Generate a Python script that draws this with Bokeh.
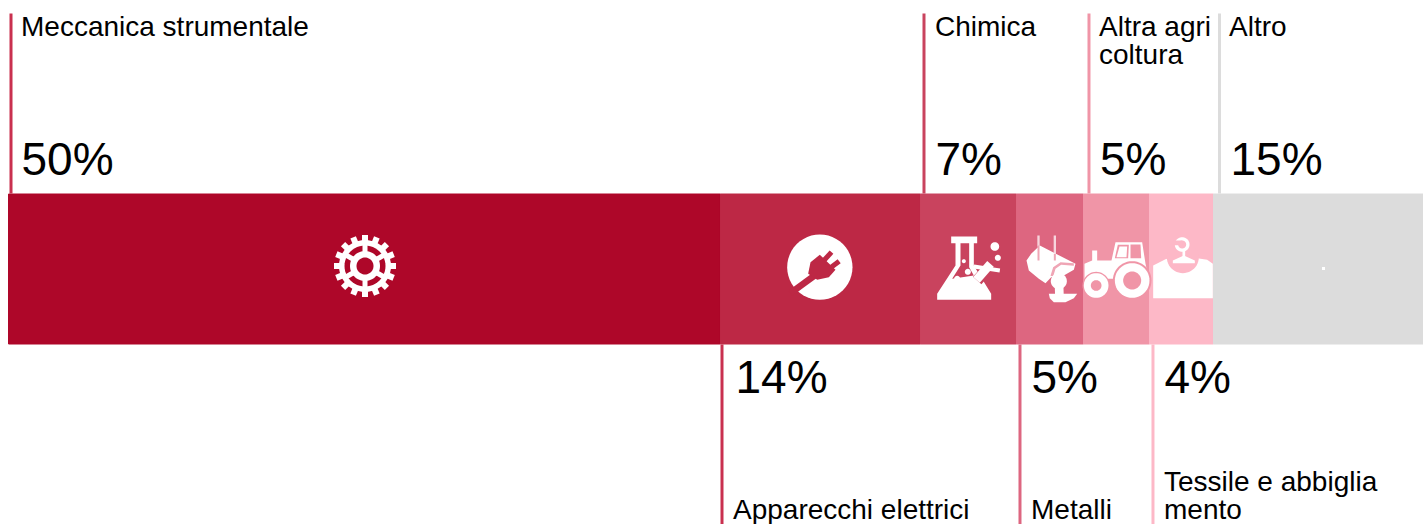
import math
from bokeh.plotting import figure
from bokeh.models import Range1d
from bokeh.core.properties import value
from bokeh.embed import file_html
from bokeh.resources import INLINE

# ---- data ----
sectors = ["Meccanica strumentale", "Apparecchi elettrici", "Chimica", "Metalli",
           "Altra agricoltura", "Tessile e abbigliamento", "Altro"]
shown_pct = [50, 14, 7, 5, 5, 4, 15]
bar_share = [50.318, 14.134, 6.784, 4.735, 4.664, 4.523, 14.842]
bar_colors = ["#AE0729", "#BD2845", "#C9435E", "#DD6680", "#F095A7", "#FDB8C7", "#DCDCDC"]
stem_colors = ["#C9304F", "#C9304F", "#C9435E", "#DD6680", "#F095A7", "#FDB8C7", "#DCDCDC"]
label_lines = [["Meccanica strumentale"], ["Apparecchi elettrici"], ["Chimica"], ["Metalli"],
               ["Altra agri", "coltura"], ["Tessile e abbiglia", "mento"], ["Altro"]]
above = [True, False, True, False, True, False, True]

W, H = 1423, 524
UNIT = 1415.0 / 100.0   # pixels per percentage point


def X(px):
    return (px - 8) / UNIT


p = figure(width=W, height=H, output_backend="svg", toolbar_location=None,
           x_range=Range1d(X(0), X(W)), y_range=Range1d(H, 0),
           min_border=0, outline_line_color=None, background_fill_color="white",
           border_fill_color="white")
p.axis.visible = False
p.grid.visible = False

FONT = value("Liberation Sans")
BAR_TOP, BAR_BOT = 193.5, 343.5
LABEL_SIZE, PCT_SIZE = 28, 46
SHIFT = 0.38   # the svg text sits this many em under its anchor

# bars through the x scale
lefts, rights, c = [], [], 0.0
for s in bar_share:
    lefts.append(c); c += s; rights.append(c)
p.quad(left=lefts, right=rights, top=BAR_TOP, bottom=BAR_BOT, fill_color=bar_colors,
       line_color=bar_colors, line_width=1)

# stems and labels, placed from each bar's left edge
stem_off = [2.5, 1.5, 3.5, 3.5, 5.5, 3.5, 6]
text_off = [12.5, 12.5, 14.5, 14.5, 15.5, 14.5, 15.5]
pct_off = [13, 15, 15, 15, 16.5, 15, 17]
for i, (l, up) in enumerate(zip(lefts, above)):
    sx = l + stem_off[i] / UNIT
    y0, y1 = (13, 193) if up else (344, 524)
    p.segment([sx], [y0], [sx], [y1], line_color=stem_colors[i], line_width=3)
    tx = l + text_off[i] / UNIT
    ptx = l + pct_off[i] / UNIT
    p.text([ptx], [(176 if up else 394) - SHIFT * PCT_SIZE], text=[f"{shown_pct[i]}%"], text_font=FONT,
           text_font_size=f"{PCT_SIZE}px", text_color="black", text_baseline="alphabetic")
    lines = label_lines[i]
    n = len(lines)
    for j, t in enumerate(lines):
        yy = 37 + 28 * j if up else 520 - 28 * (n - 1 - j)
        p.text([tx], [yy - SHIFT * LABEL_SIZE], text=[t], text_font=FONT, text_font_size=f"{LABEL_SIZE}px",
               text_color="black", text_baseline="alphabetic")


# ---- icons, white pictograms in page pixels ----
def poly(pts, color="white", ox=0, oy=0, k=1.0):
    p.patch([X(ox + a * k) for a, b in pts], [oy + b * k for a, b in pts],
            fill_color=color, line_color=None)


def disc(cx, cy, r, color="white", ox=0, oy=0, k=1.0):
    n = 48
    poly([(cx + r * math.cos(2 * math.pi * t / n), cy + r * math.sin(2 * math.pi * t / n)) for t in range(n)],
         color, ox, oy, k)


def bar(x0, y0, x1, y1, w, color="white", ox=0, oy=0, k=1.0):
    dx, dy = x1 - x0, y1 - y0
    L = math.hypot(dx, dy)
    nx, ny = -dy / L * w / 2, dx / L * w / 2
    poly([(x0 + nx, y0 + ny), (x1 + nx, y1 + ny), (x1 - nx, y1 - ny), (x0 - nx, y0 - ny)], color, ox, oy, k)


# gear
gx, gy = 364.5, 265.5
for t in range(16):
    a = 2 * math.pi * t / 16 + math.pi / 2
    bar(gx, gy, gx + 31 * math.cos(a), gy + 31 * math.sin(a), 6)
disc(gx, gy, 26)
disc(gx, gy, 20.5, bar_colors[0])
for t in range(6):
    a = 2 * math.pi * t / 6 + math.pi / 2
    bar(gx, gy, gx + 22 * math.cos(a), gy + 22 * math.sin(a), 5)
disc(gx, gy, 15)
disc(gx, gy, 8.5, bar_colors[0])

k3 = 1 / 3
# plug
ox, oy = 760, 210
R = bar_colors[1]
disc(178, 170, 98, "white", ox, oy, k3)
bar(90, 248, 165, 193, 20, R, ox, oy, k3)
poly([(143, 190), (150, 155), (178, 133), (225, 178), (205, 200), (170, 208)], R, ox, oy, k3)
bar(190, 150, 213, 125, 15, R, ox, oy, k3)
bar(210, 172, 236, 152, 15, R, ox, oy, k3)

# flask
C = bar_colors[2]
poly([(572, 78), (650, 78), (650, 98), (640, 98), (640, 165), (692, 250), (692, 268),
      (530, 268), (530, 250), (585, 165), (585, 98), (572, 98)], "white", ox, oy, k3)
poly([(600, 98), (626, 98), (626, 170), (640, 195), (575, 205), (600, 165)], C, ox, oy, k3)
disc(610, 152, 6, "white", ox, oy, k3)
disc(622, 184, 9, "white", ox, oy, k3)
disc(590, 205, 9, "white", ox, oy, k3)
bar(650, 210, 695, 160, 34, C, ox, oy, k3)
bar(648, 208, 690, 160, 26, "white", ox, oy, k3)
bar(640, 168, 718, 180, 12, "white", ox, oy, k3)
disc(703, 108, 13, "white", ox, oy, k3)
disc(712, 142, 9, "white", ox, oy, k3)

# crucible
ox, oy = 1010, 210
M = "#EFA5B5"
bar(84, 75, 84, 108, 7, "#F7D5DD", ox, oy, k3)
bar(133, 75, 133, 132, 7, "#F7D5DD", ox, oy, k3)
poly([(48, 150), (62, 130), (88, 105), (195, 160), (190, 178), (160, 195), (122, 200), (105, 218), (85, 205), (55, 180)],
     "white", ox, oy, k3)
bar(84, 105, 84, 150, 6, M, ox, oy, k3)
bar(133, 130, 133, 150, 6, M, ox, oy, k3)
poly([(120, 196), (128, 170), (150, 155), (190, 158), (190, 166), (152, 163), (135, 175), (128, 198)],
     M, ox, oy, k3)
bar(145, 205, 147, 262, 26, "white", ox, oy, k3)
disc(145, 212, 24, "white", ox, oy, k3)
poly([(115, 250), (200, 250), (190, 263), (165, 275), (130, 275), (118, 263)], "white", ox, oy, k3)

# tractor
T = bar_colors[4]
poly([(222, 160), (245, 150), (245, 120), (260, 120), (260, 150), (303, 150), (315, 95), (395, 95), (405, 160),
      (415, 205), (300, 205), (222, 205)], "white", ox, oy, k3)
poly([(322, 103), (355, 103), (353, 143), (313, 143)], T, ox, oy, k3)
poly([(327, 108), (350, 108), (348, 140), (318, 140)], "white", ox, oy, k3)
poly([(360, 102), (390, 102), (392, 143), (360, 143)], T, ox, oy, k3)
disc(365, 210, 58, T, ox, oy, k3)
disc(257, 225, 41, T, ox, oy, k3)
disc(365, 210, 52, "white", ox, oy, k3)
disc(365, 210, 27, T, ox, oy, k3)
disc(257, 225, 37, "white", ox, oy, k3)
disc(257, 225, 16, T, ox, oy, k3)

# shirt on a hanger
S = bar_colors[5]
poly([(428, 165), (465, 146), (480, 142), (550, 142), (590, 148), (607, 160), (607, 263), (428, 263)],
     "white", ox, oy, k3)
disc(517, 140, 48, S, ox, oy, k3)
disc(515, 102, 22, "white", ox, oy, k3)
disc(515, 102, 12, S, ox, oy, k3)
poly([(490, 104), (515, 104), (515, 90), (490, 90)], S, ox, oy, k3)
bar(520, 118, 520, 150, 8, "white", ox, oy, k3)
poly([(487, 150), (520, 135), (553, 150), (553, 158), (487, 158)], "white", ox, oy, k3)

# tiny white mark in the grey bar
poly([(1321.5, 266.5), (1324.5, 266.5), (1324.5, 269.5), (1321.5, 269.5)])

open("out.html", "w").write(file_html(p, INLINE))
